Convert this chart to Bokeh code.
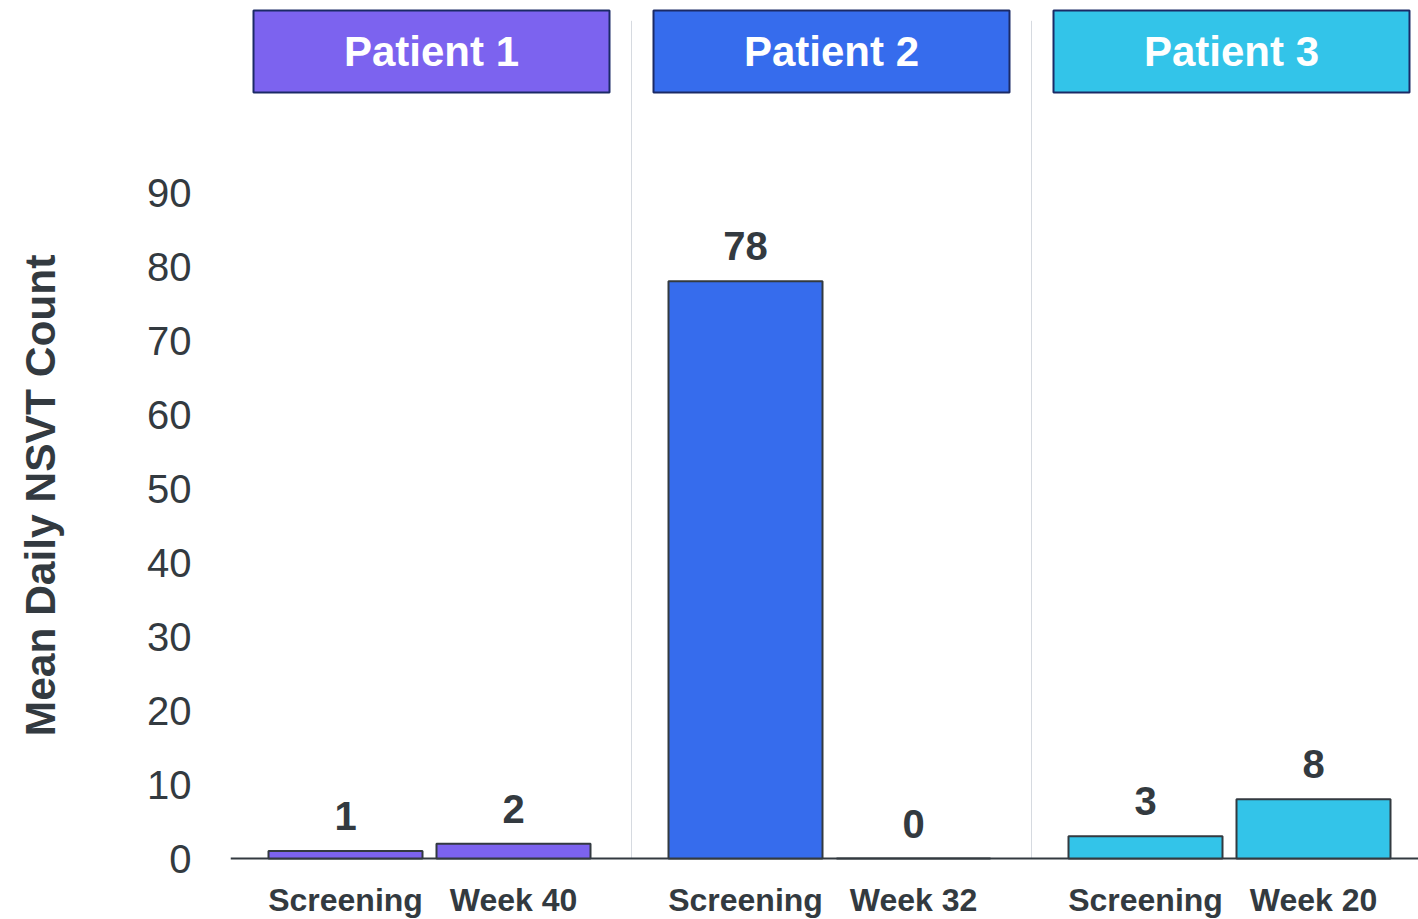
from bokeh.plotting import figure
from bokeh.models import Range1d, FixedTicker, ColumnDataSource
from bokeh.core.properties import value
from bokeh.embed import file_html
from bokeh.resources import INLINE

# Data
patients = ["Patient 1", "Patient 2", "Patient 3"]
timepoints = [["Screening", "Week 40"], ["Screening", "Week 32"], ["Screening", "Week 20"]]
nsvt_counts = [[1, 2], [78, 0], [3, 8]]
patient_colors = ["#7c63ef", "#366ced", "#33c4e9"]
y_ticks = [0, 10, 20, 30, 40, 50, 60, 70, 80, 90]
y_title = "Mean Daily NSVT Count"

FONT = "Liberation Sans"
DARK = "#333a40"

# Layout constants (group index units on x)
BAR_OFFSETS = (-0.215, 0.205)
BAR_WIDTH = 0.385
HEADER_WIDTH = 0.89

xs, tops, tp_labels, fills = [], [], [], []
for gi, (tps, vals, col) in enumerate(zip(timepoints, nsvt_counts, patient_colors)):
    for off, tp, v in zip(BAR_OFFSETS, tps, vals):
        xs.append(round(gi + off, 4))
        tops.append(v)
        tp_labels.append(tp)
        fills.append(col)

bars = ColumnDataSource(dict(x=xs, top=tops, zero=[0] * len(xs),
                             label=[str(v) for v in tops], tp=tp_labels, color=fills))

# The plotting frame runs to the bottom edge so the timepoint names sit inside it
p = figure(width=1418, height=919, output_backend="svg", toolbar_location=None,
           x_range=Range1d(-0.5025, 2.4675), y_range=Range1d(-8.243, 115.946),
           min_border_left=230, min_border_right=0, min_border_top=0, min_border_bottom=0)
p.outline_line_color = None
p.xgrid.visible = False
p.ygrid.visible = False
p.xaxis.visible = False
p.background_fill_color = "white"
p.border_fill_color = "white"

# Panel separators
p.segment(x0=[0.5, 1.5], y0=[0, 0], x1=[0.5, 1.5], y1=[113.2, 113.2],
          line_color="#d6dae0", line_width=1)

# Baseline
p.segment(x0=[-0.5025], y0=[0], x1=[2.4675], y1=[0], line_color=DARK, line_width=2)

# Bars
p.vbar(x="x", top="top", bottom=0, width=BAR_WIDTH, source=bars,
       fill_color="color", line_color=DARK, line_width=2)

# Value labels above bars
p.text(x="x", y="top", text="label", source=bars, text_align="center",
       text_baseline="middle", y_offset=-35, text_font=value(FONT),
       text_font_style="bold", text_font_size="40px", text_color=DARK)

# Timepoint names beneath the baseline
p.text(x="x", y="zero", text="tp", source=bars, text_align="center",
       text_baseline="middle", y_offset=41, text_font=value(FONT),
       text_font_style="bold", text_font_size="32px", text_color=DARK)

# Patient header boxes
hdr = ColumnDataSource(dict(x=list(range(len(patients))), name=patients, color=patient_colors))
p.rect(x="x", y=109.05, width=HEADER_WIDTH, height=11.1, source=hdr,
       fill_color="color", line_color="#1b2a66", line_width=2)
p.text(x="x", y=109.05, text="name", source=hdr, text_align="center",
       text_baseline="middle", text_font=value(FONT), text_font_style="bold",
       text_font_size="42px", text_color="white")

# Y axis
ya = p.yaxis[0]
ya.ticker = FixedTicker(ticks=y_ticks)
ya.axis_line_color = None
ya.major_tick_line_color = None
ya.minor_tick_line_color = None
ya.major_label_standoff = 33
ya.major_label_text_font = FONT
ya.major_label_text_font_size = "40px"
ya.major_label_text_color = DARK

# Axis title centred on the value span (0-90) rather than the full frame:
# trailing no-break spaces pad the upper end of the rotated label
ya.axis_label = y_title + "\u00a0" * 6
ya.axis_label_standoff = 80
ya.axis_label_text_font = FONT
ya.axis_label_text_font_style = "bold"
ya.axis_label_text_font_size = "42.5px"
ya.axis_label_text_color = DARK

open("out.html", "w").write(file_html(p, INLINE))
